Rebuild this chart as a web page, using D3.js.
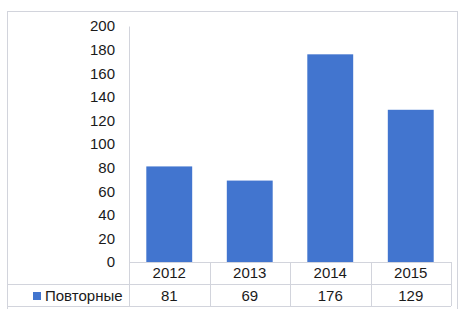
<!DOCTYPE html>
<html>
<head>
<meta charset="utf-8">
<script src="https://cdn.jsdelivr.net/npm/d3@7"></script>
<style>
  body { margin: 0; background: #fff; }
  svg text { font-family: "Liberation Sans", Arial, sans-serif; fill: #1a1a1a; }
</style>
</head>
<body>
<div id="chart"></div>
<script>
// data
const years = ['2012', '2013', '2014', '2015']
const repeated = [81, 69, 176, 129]
const seriesName = 'Повторные'
const yTicks = [0, 20, 40, 60, 80, 100, 120, 140, 160, 180, 200]

const width = 460
const height = 309
const barColor = '#4275cf'
const lineColor = '#d2d4dc'

let svg = d3.select('#chart').append('svg')
    .attr('width', width)
    .attr('height', height)

// outer frame
svg.append('rect')
    .attr('x', 7.5).attr('y', 11.5)
    .attr('width', 450).attr('height', 310)
    .attr('fill', 'none')
    .attr('stroke', lineColor)

let x = d3.scaleBand()
    .domain(years)
    .range([129, 451])
    .paddingInner(0.43)
    .paddingOuter(0.215)

let y = d3.scaleLinear()
    .domain([0, 200])
    .range([262, 26])

// y axis
let yAxis = svg.append('g')
    .attr('transform', 'translate(129,0)')
    .call(d3.axisLeft(y).tickValues(yTicks).tickSize(0).tickPadding(14))
yAxis.select('.domain').attr('stroke', lineColor)
yAxis.selectAll('text').style('font-size', '15px').attr('fill', '#1a1a1a')

// bars
svg.selectAll('rect.bar')
    .data(years)
    .enter()
    .append('rect')
    .attr('class', 'bar')
    .attr('x', function (d) { return x(d) })
    .attr('y', function (d, i) { return y(repeated[i]) })
    .attr('width', x.bandwidth())
    .attr('height', function (d, i) { return y(0) - y(repeated[i]) })
    .attr('fill', barColor)

// data table under the chart
let row1 = y(0)
let row2 = row1 + 22
let row3 = row2 + 22
let left = x.range()[0]
let right = x.range()[1]
let step = x.step()

let grid = svg.append('g').attr('stroke', lineColor).attr('fill', 'none')
grid.append('line').attr('x1', left).attr('x2', right).attr('y1', row1 + 0.5).attr('y2', row1 + 0.5)
grid.append('line').attr('x1', 7).attr('x2', right).attr('y1', row2 + 0.5).attr('y2', row2 + 0.5)
grid.append('line').attr('x1', 7).attr('x2', right).attr('y1', row3 + 0.5).attr('y2', row3 + 0.5)
grid.selectAll('line.v')
    .data(d3.range(years.length + 1))
    .enter()
    .append('line')
    .attr('x1', function (i) { return Math.round(left + i * step) + 0.5 })
    .attr('x2', function (i) { return Math.round(left + i * step) + 0.5 })
    .attr('y1', row1)
    .attr('y2', row3)

svg.selectAll('text.year')
    .data(years)
    .enter()
    .append('text')
    .attr('class', 'year')
    .attr('x', function (d) { return x(d) + x.bandwidth() / 2 })
    .attr('y', row1 + 11)
    .attr('dy', '0.35em')
    .attr('text-anchor', 'middle')
    .style('font-size', '15px')
    .text(function (d) { return d })

svg.selectAll('text.val')
    .data(years)
    .enter()
    .append('text')
    .attr('class', 'val')
    .attr('x', function (d) { return x(d) + x.bandwidth() / 2 })
    .attr('y', row2 + 12)
    .attr('dy', '0.35em')
    .attr('text-anchor', 'middle')
    .style('font-size', '15px')
    .text(function (d, i) { return repeated[i] })

// legend key inside the table
svg.append('rect')
    .attr('x', 33).attr('y', row2 + 8)
    .attr('width', 8).attr('height', 8)
    .attr('fill', barColor)
svg.append('text')
    .attr('x', 45)
    .attr('y', row2 + 12)
    .attr('dy', '0.35em')
    .style('font-size', '15px')
    .text(seriesName)
</script>
</body>
</html>
